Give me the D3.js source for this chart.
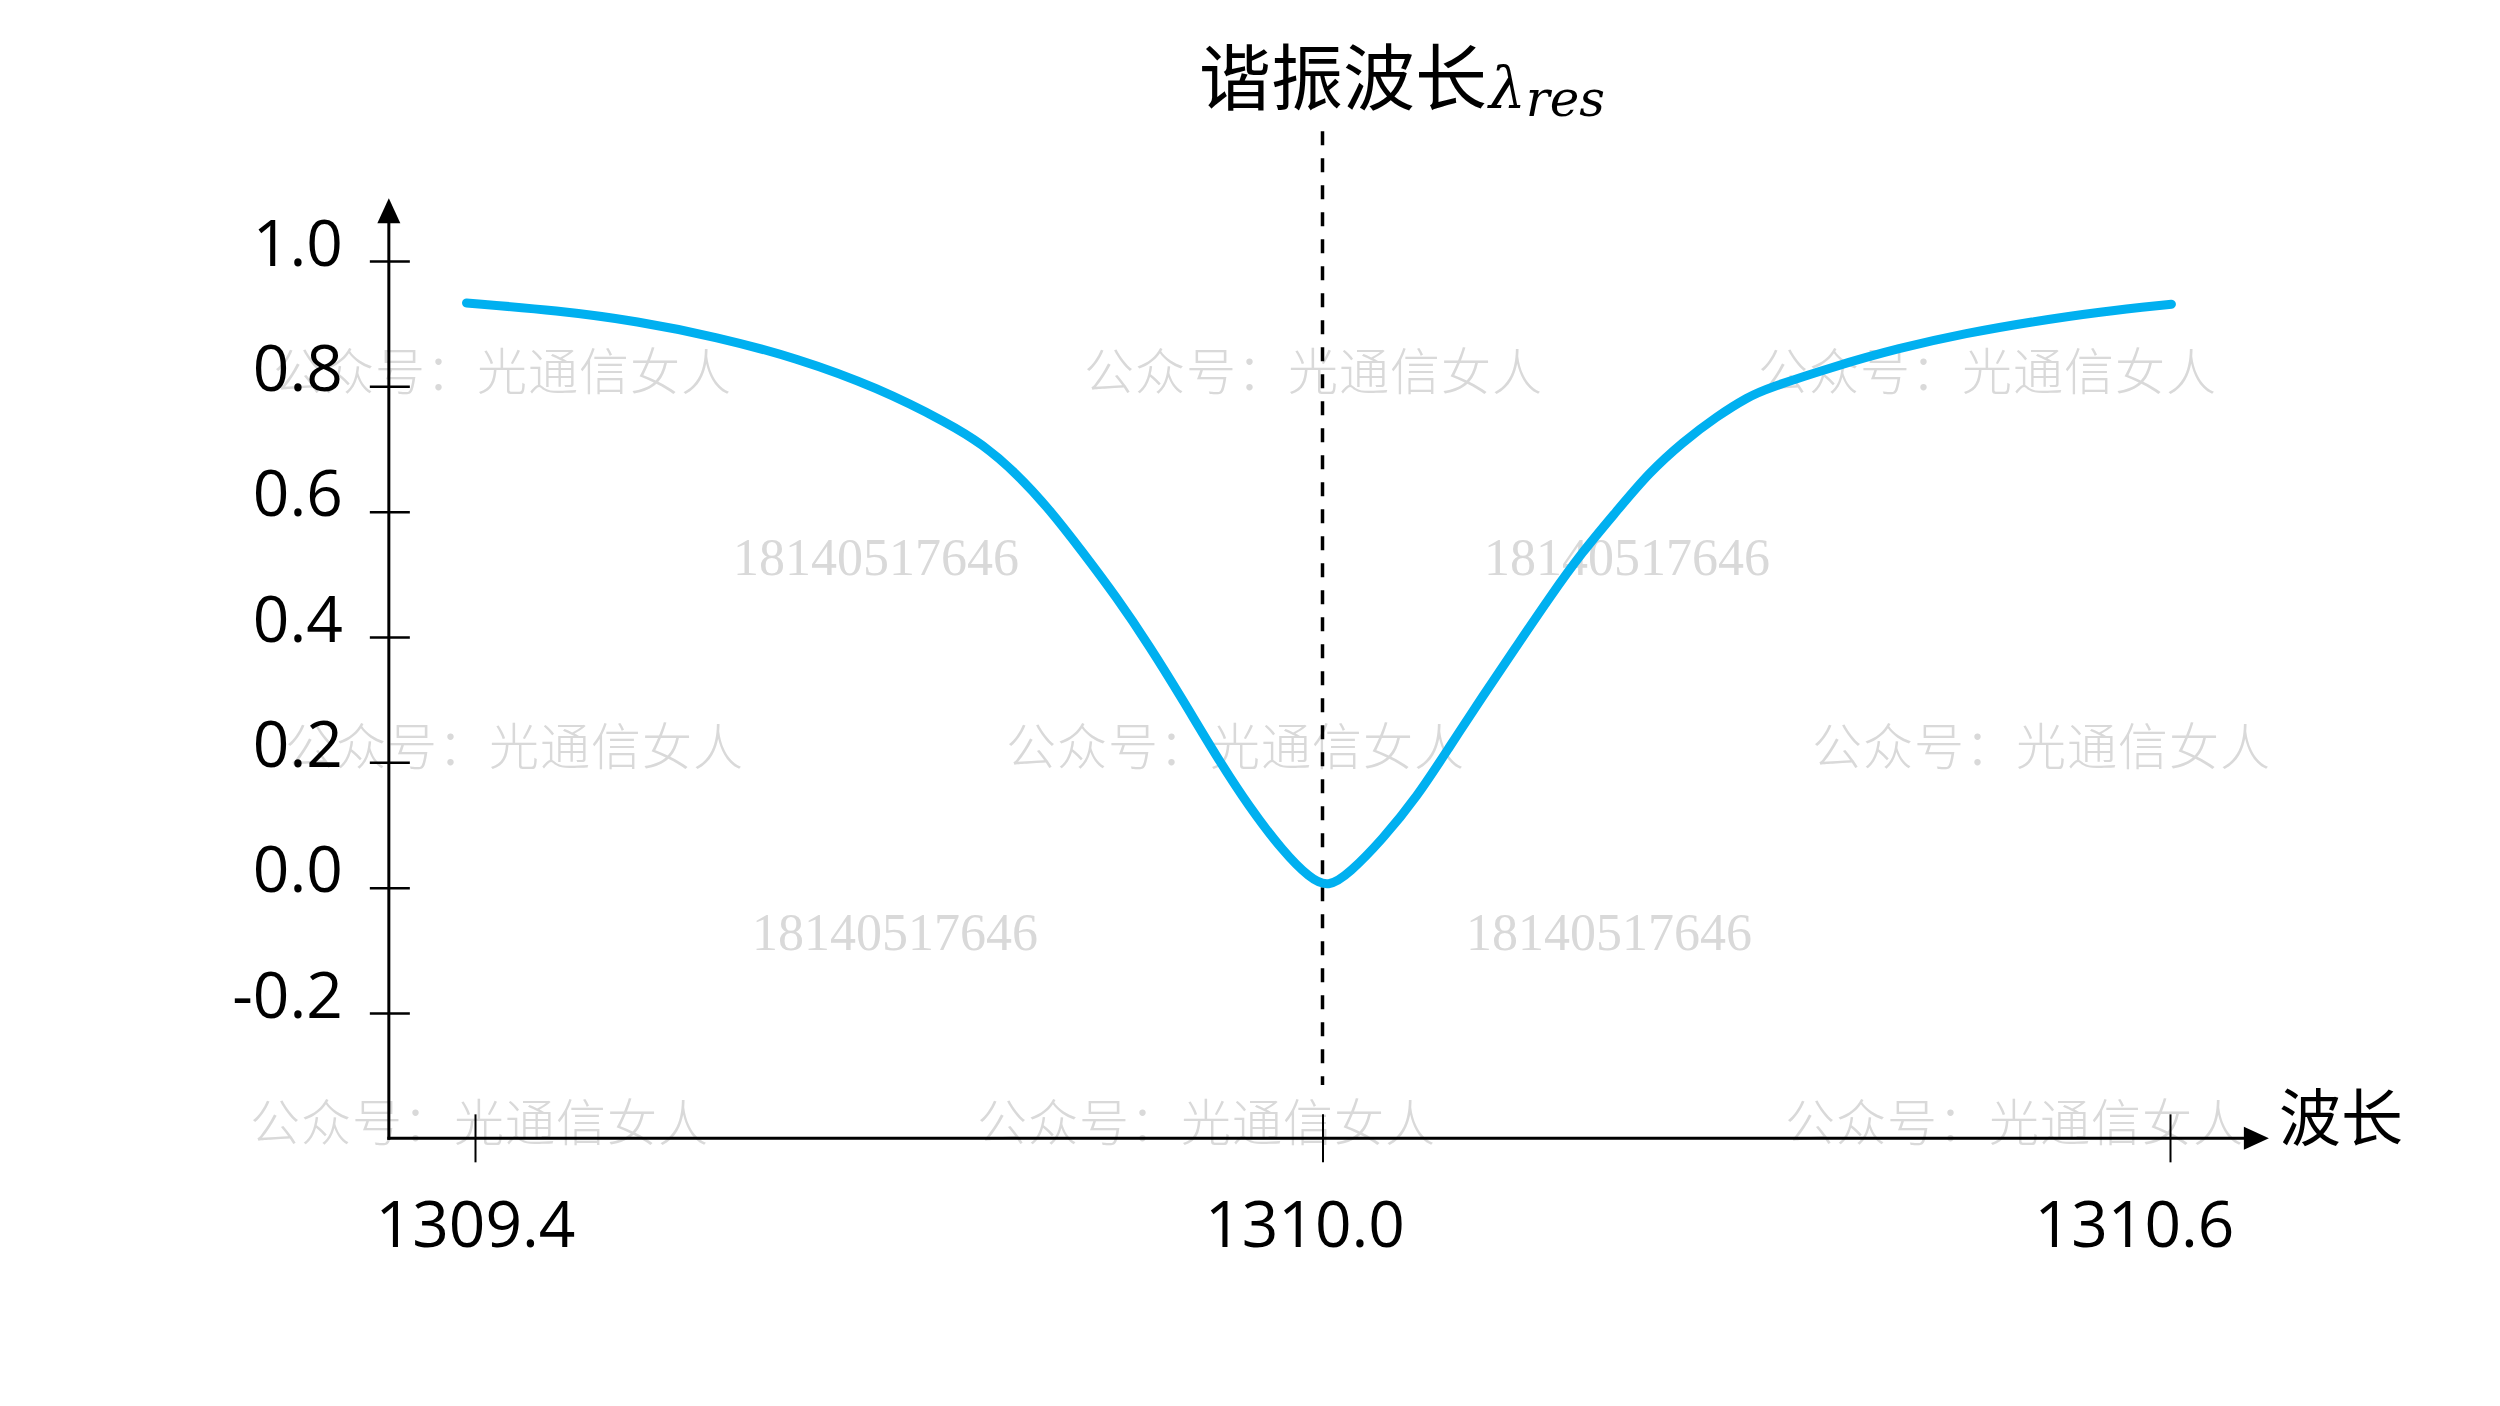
<!DOCTYPE html>
<html>
<head>
<meta charset="utf-8">
<script src="https://cdn.jsdelivr.net/npm/d3@7"></script>
<style>
  html, body { margin: 0; padding: 0; background: #fff; }
  svg { display: block; }
</style>
</head>
<body>
<svg id="chart" width="2500" height="1406"></svg>
<script>
// ---------------- data ----------------
const wavelength = [
  1309.394, 1309.459, 1309.515, 1309.571, 1309.628, 1309.685, 1309.736, 1309.759,
  1309.783, 1309.807, 1309.830, 1309.854, 1309.878, 1309.901, 1309.925, 1309.948,
  1309.972, 1309.991, 1310.004, 1310.019, 1310.042, 1310.067, 1310.090, 1310.113,
  1310.137, 1310.161, 1310.184, 1310.208, 1310.231, 1310.255, 1310.279, 1310.302,
  1310.314, 1310.361, 1310.408, 1310.456, 1310.502, 1310.550, 1310.601
];
const transmission = [
  0.933, 0.921, 0.904, 0.879, 0.845, 0.798, 0.740, 0.708,
  0.662, 0.603, 0.536, 0.464, 0.384, 0.300, 0.209, 0.129,
  0.058, 0.015, 0.000, 0.023, 0.076, 0.145, 0.225, 0.304,
  0.384, 0.464, 0.536, 0.600, 0.662, 0.711, 0.752, 0.784,
  0.796, 0.831, 0.861, 0.885, 0.903, 0.919, 0.931
];
const yTicks = [-0.2, 0.0, 0.2, 0.4, 0.6, 0.8, 1.0];
const yTickLabels = ["-0.2", "0.0", "0.2", "0.4", "0.6", "0.8", "1.0"];
const xTicks = [1309.4, 1310.0, 1310.6];
const xTickLabels = ["1309.4", "1310.0", "1310.6"];
const resonance = 1310.0;
const titleMain = "谐振波长";
const titleSymbol = "λ";
const titleSub = "res";
const xAxisTitle = "波长";
const watermarkText = "公众号：光通信女人";
const watermarkNumber = "18140517646";

// axis extents (data units)
const xAxisFrom = 1309.339, xAxisTo = 1310.670;
const yAxisFrom = -0.4, yAxisTo = 1.1;
const dashFrom = -0.315, dashTo = 1.207;

// ---------------- layout ----------------
const svg = d3.select("#chart");
svg.append("rect").attr("width", 2500).attr("height", 1406).attr("fill", "#fff");

const x = d3.scaleLinear().domain([1309.4, 1310.6]).range([475, 2170]);
const y = d3.scaleLinear().domain([-0.2, 1.0]).range([1013, 261]);

const ax0 = x(xAxisFrom);           // y axis x position
const ay0 = y(yAxisFrom);           // x axis y position

// watermarks (background)
const wmLayout = [
  {t: watermarkText, x: 273, y: 390}, {t: watermarkText, x: 1084, y: 390}, {t: watermarkText, x: 1758, y: 390},
  {t: watermarkNumber, x: 733, y: 575}, {t: watermarkNumber, x: 1484, y: 575},
  {t: watermarkText, x: 285, y: 765}, {t: watermarkText, x: 1006, y: 765}, {t: watermarkText, x: 1812, y: 765},
  {t: watermarkNumber, x: 752, y: 950}, {t: watermarkNumber, x: 1466, y: 950},
  {t: watermarkText, x: 250, y: 1141}, {t: watermarkText, x: 977, y: 1141}, {t: watermarkText, x: 1785, y: 1141}
];
svg.append("g").selectAll("text").data(wmLayout).join("text")
  .attr("x", d => d.x).attr("y", d => d.y)
  .attr("fill", "#d9d9d9")
  .attr("font-family", d => d.t === watermarkNumber ? "'Liberation Serif', serif" : "'Noto Sans CJK SC', sans-serif")
  .attr("font-weight", d => d.t === watermarkNumber ? 400 : 300)
  .attr("font-size", d => d.t === watermarkNumber ? 52 : 50)
  .attr("letter-spacing", d => d.t === watermarkNumber ? 0 : 1)
  .text(d => d.t);

// dashed resonance line
svg.append("line")
  .attr("x1", x(resonance)).attr("x2", x(resonance))
  .attr("y1", y(dashTo)).attr("y2", y(dashFrom))
  .attr("stroke", "#000").attr("stroke-width", 3.5)
  .attr("stroke-dasharray", "14,13");

// axes lines with arrows
const arrowLen = 25, arrowHalf = 11.5;
const yTop = y(yAxisTo);
const xEnd = x(xAxisTo);
svg.append("line").attr("x1", ax0).attr("x2", ax0).attr("y1", ay0 + 1.5).attr("y2", yTop + arrowLen - 2)
  .attr("stroke", "#000").attr("stroke-width", 3);
svg.append("path")
  .attr("d", `M${ax0},${yTop} L${ax0 - arrowHalf},${yTop + arrowLen} L${ax0 + arrowHalf},${yTop + arrowLen} Z`)
  .attr("fill", "#000");
svg.append("line").attr("x1", ax0 - 1.5).attr("x2", xEnd - arrowLen + 2).attr("y1", ay0).attr("y2", ay0)
  .attr("stroke", "#000").attr("stroke-width", 3);
svg.append("path")
  .attr("d", `M${xEnd},${ay0} L${xEnd - arrowLen},${ay0 - arrowHalf} L${xEnd - arrowLen},${ay0 + arrowHalf} Z`)
  .attr("fill", "#000");

// y axis ticks via d3.axisLeft
const yAxisG = svg.append("g").attr("transform", `translate(${ax0},0)`)
  .call(d3.axisLeft(y).tickValues(yTicks).tickSize(19)
        .tickFormat((d, i) => yTickLabels[i]));
yAxisG.select(".domain").remove();
yAxisG.selectAll(".tick line").attr("x1", 21).attr("x2", -19)
  .attr("stroke", "#000").attr("stroke-width", 2.5);
yAxisG.selectAll(".tick text")
  .attr("x", -46).attr("dy", null).attr("y", 4)
  .attr("fill", "#000")
  .attr("font-family", "'Open Sans', sans-serif").attr("font-size", 64)
  .attr("text-anchor", "end");
yAxisG.attr("font-family", null).attr("font-size", null);

// x axis ticks via d3.axisBottom
const xLabelShift = [0, -18, -36];
const xAxisG = svg.append("g").attr("transform", `translate(0,${ay0})`)
  .call(d3.axisBottom(x).tickValues(xTicks).tickSize(24)
        .tickFormat((d, i) => xTickLabels[i]));
xAxisG.select(".domain").remove();
xAxisG.selectAll(".tick line").attr("y1", -24).attr("y2", 24)
  .attr("stroke", "#000").attr("stroke-width", 2);
xAxisG.selectAll(".tick text")
  .attr("dy", null).attr("y", 109)
  .attr("x", (d, i) => xLabelShift[i])
  .attr("fill", "#000")
  .attr("font-family", "'Open Sans', sans-serif").attr("font-size", 64)
  .attr("text-anchor", "middle");
xAxisG.attr("font-family", null).attr("font-size", null);

// x axis title
svg.append("text")
  .attr("x", xEnd + 10).attr("y", ay0 + 3)
  .attr("font-family", "'Noto Sans CJK SC', sans-serif").attr("font-size", 62)
  .attr("fill", "#000")
  .text(xAxisTitle);

// curve
const pts = wavelength.map((w, i) => [w, transmission[i]]);
svg.append("path")
  .datum(pts)
  .attr("d", d3.line().x(d => x(d[0])).y(d => y(d[1])).curve(d3.curveBasis))
  .attr("fill", "none")
  .attr("stroke", "#00B0F0")
  .attr("stroke-width", 9)
  .attr("stroke-linecap", "round")
  .attr("stroke-linejoin", "round");

// title
const title = svg.append("text")
  .attr("x", 1199).attr("y", 104)
  .attr("fill", "#000");
title.append("tspan")
  .attr("font-family", "'Noto Sans CJK SC', sans-serif").attr("font-size", 72)
  .text(titleMain);
title.append("tspan")
  .attr("font-family", "'DejaVu Serif', serif").attr("font-style", "italic").attr("font-size", 58)
  .attr("dx", 2).attr("dy", 4)
  .text(titleSymbol);
title.append("tspan")
  .attr("font-family", "'DejaVu Serif', serif").attr("font-style", "italic").attr("font-size", 50)
  .attr("dy", 8)
  .text(titleSub);
</script>
</body>
</html>
